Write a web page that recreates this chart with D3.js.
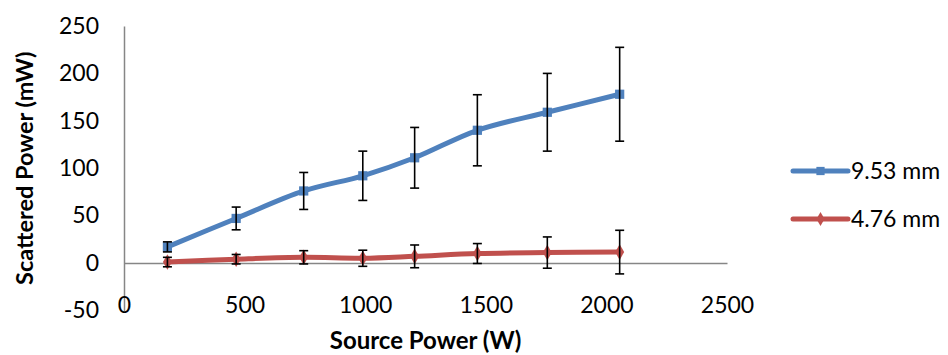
<!DOCTYPE html>
<html>
<head>
<meta charset="utf-8">
<script src="https://cdn.jsdelivr.net/npm/d3@7"></script>
<style>
  body { margin: 0; background: #fff; }
  svg text { font-family: Lato, "Open Sans", sans-serif; fill: #000; }
</style>
</head>
<body>
<div id="chart"></div>
<script>
// data
var sourcePower = [180, 465, 745, 990, 1205, 1465, 1755, 2055];
var big = [17, 47, 76, 92, 111, 140, 159, 178];      // 9.53 mm
var bigErr = [5.3, 12, 19.5, 26, 32, 37.5, 41, 49.5];
var small = [1, 4, 6, 5, 7, 10, 11, 11.5];           // 4.76 mm
var smallErr = [5, 5, 7, 8.5, 12, 10.5, 16.5, 23];
var seriesNames = ["9.53 mm", "4.76 mm"];
var xTicks = [0, 500, 1000, 1500, 2000, 2500];
var yTicks = [-50, 0, 50, 100, 150, 200, 250];

var width = 948, height = 355;

var svg = d3.select("#chart")
    .append("svg")
    .attr("width", width)
    .attr("height", height);

var x = d3.scaleLinear().domain([0, 2500]).range([124, 727]);
var y = d3.scaleLinear().domain([-50, 250]).range([310.4, 26]);

// plain numbers, ascii minus
var fmt = function(v) { return String(v); };

// y axis
var yAxis = svg.append("g")
    .attr("transform", "translate(" + x(0) + ",0)")
    .call(d3.axisLeft(y).tickValues(yTicks).tickFormat(fmt).tickSize(0).tickPadding(25));
yAxis.select(".domain").attr("stroke", "#868686").attr("stroke-width", 1.5);
yAxis.selectAll("text")
    .style("font-size", "23px")
    .style("font-family", "Lato, sans-serif");

// x axis sits on y = 0, labels pushed down to the bottom
var xAxis = svg.append("g")
    .attr("transform", "translate(0," + y(0) + ")")
    .call(d3.axisBottom(x).tickValues(xTicks).tickFormat(fmt).tickSize(0));
xAxis.select(".domain").attr("stroke", "#868686").attr("stroke-width", 1.5);
xAxis.selectAll("text")
    .attr("y", 305 - y(0))
    .attr("dy", "0.35em")
    .style("font-size", "23px")
    .style("font-family", "Lato, sans-serif");

// axis titles
svg.append("text")
    .attr("transform", "translate(25," + (y(-50) + y(250)) / 2 + ") rotate(-90)")
    .attr("text-anchor", "middle")
    .attr("dy", "0.35em")
    .style("font-size", "23.5px")
    .style("font-weight", "bold")
    .text("Scattered Power (mW)");

svg.append("text")
    .attr("x", (x(0) + x(2500)) / 2)
    .attr("y", 341)
    .attr("text-anchor", "middle")
    .attr("dy", "0.35em")
    .style("font-size", "24px")
    .style("font-weight", "bold")
    .text("Source Power (W)");

var series = [
    { name: seriesNames[0], vals: big, err: bigErr, color: "#4F81BD", shape: d3.symbolSquare, size: 85 },
    { name: seriesNames[1], vals: small, err: smallErr, color: "#C0504D", shape: d3.symbolDiamond, size: 70 }
];

var line = d3.line()
    .x(function(d) { return x(d[0]); })
    .y(function(d) { return y(d[1]); })
    .curve(d3.curveCatmullRom.alpha(0.5));

series.forEach(function(s) {
    var pts = sourcePower.map(function(p, i) { return [p, s.vals[i], s.err[i]]; });

    svg.append("path")
        .datum(pts)
        .attr("d", line)
        .attr("fill", "none")
        .attr("stroke", s.color)
        .attr("stroke-width", 5)
        .attr("stroke-linejoin", "round")
        .attr("stroke-linecap", "round");

    svg.append("g")
        .selectAll("path")
        .data(pts)
        .enter()
        .append("path")
        .attr("d", d3.symbol().type(s.shape).size(s.size))
        .attr("transform", function(d) { return "translate(" + x(d[0]) + "," + y(d[1]) + ")"; })
        .attr("fill", s.color);

    // error bars
    var eb = svg.append("g")
        .selectAll("g")
        .data(pts)
        .enter()
        .append("g")
        .attr("stroke", "#000")
        .attr("stroke-width", 1.6);
    eb.append("line")
        .attr("x1", function(d) { return x(d[0]); })
        .attr("x2", function(d) { return x(d[0]); })
        .attr("y1", function(d) { return y(d[1] + d[2]); })
        .attr("y2", function(d) { return y(d[1] - d[2]); });
    eb.append("line")
        .attr("x1", function(d) { return x(d[0]) - 4.5; })
        .attr("x2", function(d) { return x(d[0]) + 4.5; })
        .attr("y1", function(d) { return y(d[1] + d[2]); })
        .attr("y2", function(d) { return y(d[1] + d[2]); });
    eb.append("line")
        .attr("x1", function(d) { return x(d[0]) - 4.5; })
        .attr("x2", function(d) { return x(d[0]) + 4.5; })
        .attr("y1", function(d) { return y(d[1] - d[2]); })
        .attr("y2", function(d) { return y(d[1] - d[2]); });
});

// legend
var legend = svg.append("g")
    .selectAll("g")
    .data(series)
    .enter()
    .append("g")
    .attr("transform", function(d, i) { return "translate(793," + (171 + i * 48) + ")"; });
legend.append("line")
    .attr("x1", 0).attr("x2", 55)
    .attr("stroke", function(d) { return d.color; })
    .attr("stroke-width", 5)
    .attr("stroke-linecap", "round");
legend.append("path")
    .attr("d", function(d) { return d3.symbol().type(d.shape).size(d.size * 0.8)(); })
    .attr("transform", "translate(27.5,0)")
    .attr("fill", function(d) { return d.color; });
legend.append("text")
    .attr("x", 58)
    .attr("dy", "0.35em")
    .style("font-size", "23px")
    .text(function(d) { return d.name; });
</script>
</body>
</html>
